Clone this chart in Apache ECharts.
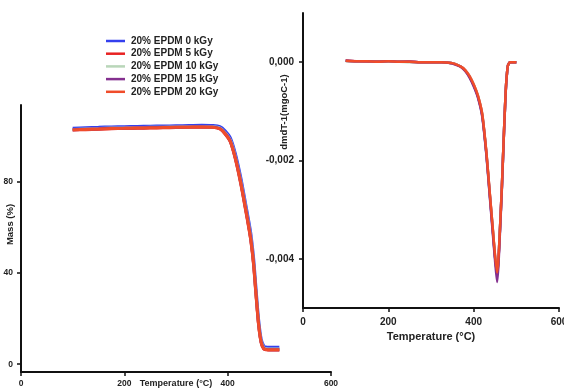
<!DOCTYPE html>
<html>
<head>
<meta charset="utf-8">
<script src="https://cdn.jsdelivr.net/npm/echarts@6/dist/echarts.min.js"></script>
<style>html,body{margin:0;padding:0;background:#fff}#c{width:564px;height:389px}</style>
</head>
<body>
<div id="c"></div>
<script>
// ---- data ----
var seriesNames = ['20% EPDM 0 kGy', '20% EPDM 5 kGy', '20% EPDM 10 kGy', '20% EPDM 15 kGy', '20% EPDM 20 kGy'];
var seriesColors = ['#3440ee', '#e82222', '#b9d6b9', '#84308f', '#f04c2a'];

// TGA (left panel)
var tgaTemp = [100,125,150,175,200,225,250,275,300,325,350,370,385,395,405,415,425,435,440,445,450,455,460,465,470,475,480,490,500];
var tga0  = [103.4,103.6,103.8,104.0,104.1,104.2,104.3,104.4,104.5,104.6,104.7,104.6,104.1,102.3,99.3,92.2,82.2,70.0,63.8,57.0,47.0,32.8,19.3,10.9,8.0,7.5,7.4,7.4,7.4];
var tga5  = [102.6,102.8,103.0,103.2,103.3,103.4,103.5,103.6,103.7,103.8,103.9,103.8,103.1,100.9,97.5,89.8,79.4,67.2,60.8,53.8,43.9,29.8,16.8,9.2,6.6,6.3,6.2,6.2,6.2];
var tga10 = [102.9,103.1,103.3,103.5,103.6,103.7,103.8,103.9,104.0,104.1,104.2,104.1,103.5,101.5,98.3,90.9,80.7,68.6,62.2,55.3,45.4,31.2,18.0,10.0,7.2,6.8,6.7,6.7,6.7];
var tga15 = [102.8,103.0,103.2,103.4,103.5,103.6,103.7,103.8,103.9,104.0,104.1,104.0,103.3,101.2,97.9,90.4,80.1,68.0,61.6,54.6,44.7,30.6,17.5,9.6,6.9,6.5,6.4,6.4,6.4];
var tga20 = [102.7,102.9,103.1,103.3,103.4,103.5,103.6,103.7,103.8,103.9,104.0,103.9,103.2,101.0,97.7,90.1,79.8,67.6,61.2,54.2,44.3,30.2,17.1,9.4,6.7,6.4,6.3,6.3,6.3];

// DTG (right panel)
var dtgTemp = [100,125,150,175,200,225,250,275,300,325,340,350,360,370,380,390,400,410,420,430,437,445,450,455,458,461,466,470,475,480,485,490,500];
var dtg0  = [0.00003,0.00002,0.00002,0.00001,0.00002,0.00001,0.00001,0.00000,0.00000,0.00000,-0.00001,-0.00002,-0.00005,-0.00009,-0.00017,-0.00029,-0.00047,-0.00070,-0.00108,-0.00188,-0.00262,-0.00344,-0.00396,-0.00430,-0.00402,-0.00352,-0.00257,-0.00166,-0.00061,-0.00008,0.00000,0.00000,0.00000];
var dtg5  = [0.00003,0.00002,0.00001,0.00002,0.00001,0.00001,0.00001,0.00000,0.00000,0.00000,-0.00001,-0.00002,-0.00005,-0.00009,-0.00016,-0.00028,-0.00046,-0.00069,-0.00106,-0.00186,-0.00259,-0.00342,-0.00394,-0.00434,-0.00404,-0.00352,-0.00256,-0.00165,-0.00060,-0.00008,0.00000,0.00000,0.00000];
var dtg10 = [0.00002,0.00002,0.00002,0.00001,0.00001,0.00001,0.00000,0.00000,0.00000,0.00000,-0.00001,-0.00002,-0.00005,-0.00009,-0.00016,-0.00028,-0.00045,-0.00068,-0.00105,-0.00186,-0.00259,-0.00341,-0.00393,-0.00432,-0.00402,-0.00351,-0.00256,-0.00165,-0.00060,-0.00008,0.00000,0.00000,0.00000];
var dtg15 = [0.00003,0.00002,0.00002,0.00001,0.00002,0.00001,0.00001,0.00000,0.00000,0.00000,-0.00001,-0.00003,-0.00006,-0.00010,-0.00018,-0.00031,-0.00049,-0.00072,-0.00110,-0.00190,-0.00265,-0.00350,-0.00402,-0.00447,-0.00414,-0.00358,-0.00260,-0.00168,-0.00062,-0.00008,0.00000,0.00000,0.00000];
var dtg20 = [0.00003,0.00002,0.00002,0.00001,0.00002,0.00001,0.00001,0.00000,0.00000,0.00000,-0.00001,-0.00002,-0.00005,-0.00009,-0.00016,-0.00028,-0.00045,-0.00068,-0.00105,-0.00185,-0.00258,-0.00340,-0.00392,-0.00428,-0.00400,-0.00350,-0.00255,-0.00165,-0.00060,-0.00008,0.00000,0.00000,0.00000];

var massTicks = [0, 40, 80];
var tempTicks = [0, 200, 400, 600];
var dtgTicks = [-0.004, -0.002, 0];

var xName = 'Temperature (°C)';
var massName = 'Mass (%)';
var dtgName = 'dmdT-1(mgoC-1)';

// ---- chart ----
var tgaSets = [tga0, tga5, tga10, tga15, tga20];
var dtgSets = [dtg0, dtg5, dtg10, dtg15, dtg20];
function pairs(xs, ys) { return xs.map(function (x, i) { return [x, ys[i]]; }); }

var FONT = 'Liberation Sans, Arial, sans-serif';
var axisLine = { show: true, lineStyle: { color: '#111', width: 2 } };
var axisTick = { show: true, inside: false, length: 4, lineStyle: { color: '#111', width: 1.5 } };

var series = [];
seriesNames.forEach(function (n, i) {
  series.push({
    name: n, type: 'line', xAxisIndex: 0, yAxisIndex: 0,
    data: pairs(tgaTemp, tgaSets[i]), symbol: 'none', showSymbol: false, smooth: 0.3,
    lineStyle: { color: seriesColors[i], width: 3 }, itemStyle: { color: seriesColors[i] }, z: 2 + i
  });
});
seriesNames.forEach(function (n, i) {
  series.push({
    name: n, type: 'line', xAxisIndex: 1, yAxisIndex: 1,
    data: pairs(dtgTemp, dtgSets[i]), symbol: 'none', showSymbol: false, smooth: 0.2,
    lineStyle: { color: seriesColors[i], width: 2.5 }, itemStyle: { color: seriesColors[i] }, z: 2 + i
  });
});

var chart = echarts.init(document.getElementById('c'), null, { renderer: 'canvas' });
chart.setOption({
  backgroundColor: '#ffffff',
  animation: false,
  textStyle: { fontFamily: FONT },
  legend: {
    data: seriesNames, orient: 'vertical', left: 106, top: 36, padding: 0,
    icon: 'rect', itemWidth: 19, itemHeight: 2.5, itemGap: 2.7,
    textStyle: { fontFamily: FONT, fontWeight: 'bold', fontSize: 10, color: '#222', padding: [0, 0, 0, 1] }
  },
  grid: [
    { left: 21, top: 105, width: 310, height: 267, containLabel: false, outerBoundsMode: 'none' },
    { left: 303, top: 13, width: 256, height: 295, containLabel: false, outerBoundsMode: 'none' }
  ],
  xAxis: [
    {
      gridIndex: 0, type: 'value', min: 0, max: 600, interval: 200,
      axisLine: Object.assign({ onZero: false }, axisLine), axisTick: axisTick, splitLine: { show: false },
      axisLabel: { margin: 7, fontSize: 8.5, fontWeight: 'bold', color: '#222', fontFamily: FONT,
        customValues: tempTicks },
      name: xName, nameLocation: 'middle', nameGap: 7, nameMoveOverlap: false,
      nameTextStyle: { fontSize: 9, fontWeight: 'bold', color: '#222', fontFamily: FONT }
    },
    {
      gridIndex: 1, type: 'value', min: 0, max: 600, interval: 200,
      axisLine: Object.assign({ onZero: false }, axisLine), axisTick: axisTick, splitLine: { show: false },
      axisLabel: { margin: 9, fontSize: 10, fontWeight: 'bold', color: '#222', fontFamily: FONT,
        customValues: tempTicks },
      name: xName, nameLocation: 'middle', nameGap: 23, nameMoveOverlap: false,
      nameTextStyle: { fontSize: 11, fontWeight: 'bold', color: '#222', fontFamily: FONT }
    }
  ],
  yAxis: [
    {
      gridIndex: 0, type: 'value', min: -3.4, max: 113.6,
      axisLine: Object.assign({ onZero: false }, axisLine),
      axisTick: Object.assign({ customValues: massTicks }, axisTick), splitLine: { show: false },
      axisLabel: { margin: 8, fontSize: 8.5, fontWeight: 'bold', color: '#222', fontFamily: FONT,
        customValues: massTicks },
      name: massName, nameLocation: 'middle', nameGap: 6, nameMoveOverlap: false,
      nameTextStyle: { fontSize: 9.5, fontWeight: 'bold', color: '#222', fontFamily: FONT, padding: [0, 0, 0, 28] }
    },
    {
      gridIndex: 1, type: 'value', min: -0.005, max: 0.001,
      axisLine: Object.assign({ onZero: false }, axisLine),
      axisTick: Object.assign({ customValues: dtgTicks }, axisTick), splitLine: { show: false },
      axisLabel: { margin: 9, fontSize: 10, fontWeight: 'bold', color: '#222', fontFamily: FONT,
        customValues: dtgTicks,
        formatter: function (v) { return (Math.abs(v) < 1e-9 ? 0 : v).toFixed(3).replace('.', ','); } },
      name: dtgName, nameLocation: 'middle', nameGap: 14, nameMoveOverlap: false,
      nameTextStyle: { fontSize: 9.5, fontWeight: 'bold', color: '#222', fontFamily: FONT, padding: [0, 0, 0, 97] }
    }
  ],
  series: series
});
</script>
</body>
</html>
